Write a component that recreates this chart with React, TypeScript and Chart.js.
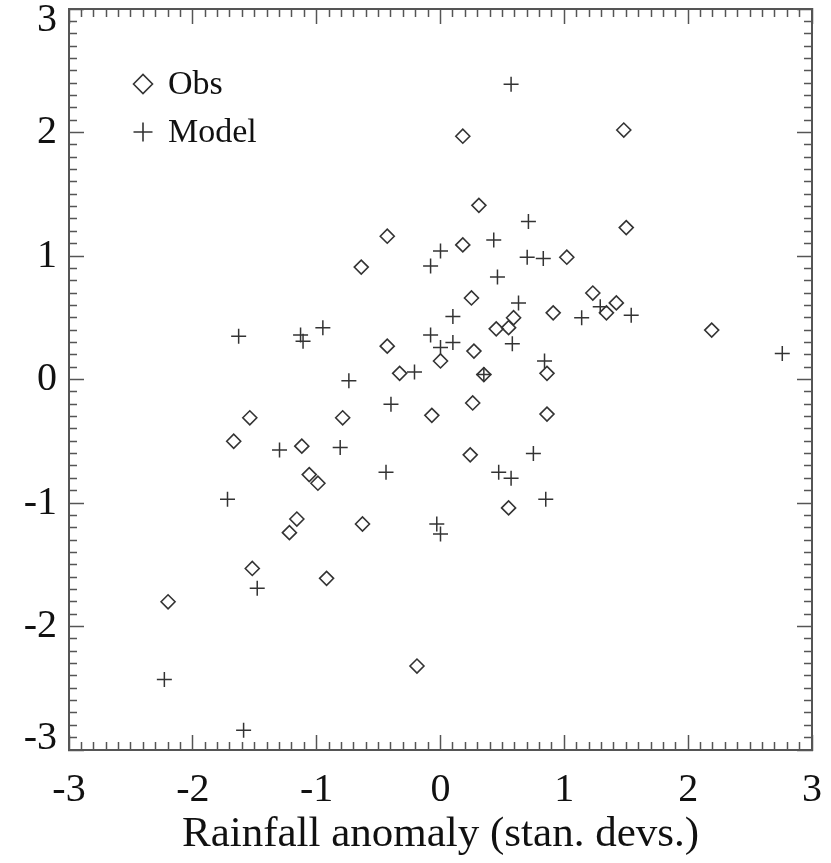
import React, { useEffect, useRef } from 'react';
import { Chart, registerables } from 'chart.js';

Chart.register(...registerables);

// ---- data ----
const obsX = [0.18, 1.48, 0.31, -0.43, 0.18, -0.64, 1.02, 1.5, 0.25, 1.23, 1.42, 1.34, 0.91, 0.45, 0.59, 0.55, 2.19, -0.43, 0.27, 0.0, -0.33, 0.35, 0.86, -1.54, -0.79, -0.07, 0.26, 0.86, -1.67, -1.12, 0.24, -1.06, -0.99, -1.16, -1.22, -0.63, 0.55, -1.52, -0.92, -2.2, -0.19];
const obsY = [1.97, 2.02, 1.41, 1.16, 1.09, 0.91, 0.99, 1.23, 0.66, 0.7, 0.62, 0.54, 0.54, 0.41, 0.5, 0.42, 0.4, 0.27, 0.23, 0.15, 0.05, 0.04, 0.05, -0.31, -0.31, -0.29, -0.19, -0.28, -0.5, -0.54, -0.61, -0.77, -0.84, -1.13, -1.24, -1.17, -1.04, -1.53, -1.61, -1.8, -2.32];

const modelX = [0.57, 0.71, 0.43, 0.0, -0.08, 0.7, 0.83, 0.46, 0.63, 0.1, 1.14, 1.54, 1.29, -1.63, -1.13, -1.11, -0.95, -0.08, 0.1, 0.0, -0.21, 0.58, 0.35, -0.74, 0.84, 2.76, -0.4, -0.81, -1.3, -0.44, 0.47, 0.57, 0.75, 0.85, -1.72, -0.03, 0.0, -1.48, -2.23, -1.59];
const modelY = [2.39, 1.28, 1.13, 1.04, 0.92, 0.99, 0.98, 0.83, 0.62, 0.51, 0.5, 0.52, 0.59, 0.35, 0.36, 0.31, 0.42, 0.36, 0.3, 0.26, 0.06, 0.29, 0.04, -0.01, 0.15, 0.21, -0.2, -0.55, -0.57, -0.75, -0.75, -0.8, -0.6, -0.97, -0.97, -1.17, -1.25, -1.69, -2.43, -2.84];

const seriesLabels = ['Obs', 'Model'];
const axisMin = -3;
const axisMax = 3;
const minorStep = 0.1;
const xTitle = 'Rainfall anomaly (stan. devs.)';

// ---- styles ----
const serif = "'Liberation Serif', 'Times New Roman', Times, serif";
const frameColor = '#555';
const markColor = '#333';
const textColor = '#111';

function isMajor(v: any): boolean {
  if (typeof v !== 'number') return true;
  const r = Math.round(v * 10) / 10;
  return Math.abs(r - Math.round(r)) < 1e-9;
}

function zeroPad(s: any) {
  s.paddingLeft = 0;
  s.paddingRight = 0;
  s.paddingTop = 0;
  s.paddingBottom = 0;
}

// startAtBorder: tick line begins at the frame (bottom/right axes); else ends at frame (top/left)
function gridCfg(startAtBorder: boolean) {
  return {
    display: true,
    drawOnChartArea: false,
    drawTicks: true,
    tickLength: -15,
    tickWidth: 1.5,
    tickColor: frameColor,
    tickBorderDash: (ctx: any) => {
      const v = ctx && ctx.tick ? ctx.tick.value : undefined;
      if (isMajor(v)) return [];
      return startAtBorder ? [9, 100] : [0, 7, 9, 100];
    },
  };
}

const borderCfg = { display: true, color: frameColor, width: 2 };

const insideLegend = {
  id: 'insideLegend',
  afterDraw(chart: any) {
    const ctx = chart.ctx;
    const a = chart.chartArea;
    const sx = a.left + 74;
    const tx = a.left + 99;
    const rows = [a.top + 75, a.top + 123];
    ctx.save();
    chart.data.datasets.forEach((ds: any, i: number) => {
      const y = rows[i];
      const r = 9.5;
      ctx.strokeStyle = markColor;
      ctx.lineWidth = 1.6;
      ctx.beginPath();
      if (ds.pointStyle === 'rectRot') {
        ctx.moveTo(sx - r, y);
        ctx.lineTo(sx, y - r);
        ctx.lineTo(sx + r, y);
        ctx.lineTo(sx, y + r);
        ctx.closePath();
      } else {
        ctx.moveTo(sx - r, y);
        ctx.lineTo(sx + r, y);
        ctx.moveTo(sx, y - r);
        ctx.lineTo(sx, y + r);
      }
      ctx.stroke();
      ctx.fillStyle = textColor;
      ctx.font = `34px ${serif}`;
      ctx.textAlign = 'left';
      ctx.textBaseline = 'middle';
      ctx.fillText(ds.label, tx, y + 1);
    });
    ctx.restore();
  },
};

export default function App() {
  const ref = useRef<HTMLCanvasElement | null>(null);

  useEffect(() => {
    if (!ref.current) return;
    const obsData = obsX.map((x, i) => ({ x, y: obsY[i] }));
    const modelData = modelX.map((x, i) => ({ x, y: modelY[i] }));

    const chart = new Chart(ref.current, {
      type: 'scatter',
      data: {
        datasets: [
          {
            label: seriesLabels[0],
            data: obsData,
            pointStyle: 'rectRot',
            radius: 7,
            hoverRadius: 7,
            borderWidth: 1.6,
            borderColor: markColor,
            backgroundColor: 'rgba(0,0,0,0)',
          },
          {
            label: seriesLabels[1],
            data: modelData,
            pointStyle: 'cross',
            radius: 7.5,
            hoverRadius: 7.5,
            borderWidth: 1.5,
            borderColor: markColor,
            backgroundColor: 'rgba(0,0,0,0)',
          },
        ] as any,
      },
      options: {
        animation: false,
        responsive: false,
        events: [],
        layout: { padding: { top: 8, right: 19, left: 0, bottom: 0 } },
        plugins: {
          legend: { display: false },
          tooltip: { enabled: false },
        },
        scales: {
          x: {
            type: 'linear',
            position: 'bottom',
            min: axisMin,
            max: axisMax,
            weight: 1,
            ticks: {
              stepSize: minorStep,
              autoSkip: false,
              maxRotation: 0,
              minRotation: 0,
              padding: 31,
              color: textColor,
              font: { family: serif, size: 40 },
              callback: (v: any) => (isMajor(v) ? String(Math.round(v) || 0) : ''),
            },
            grid: gridCfg(true),
            border: borderCfg,
            title: {
              display: true,
              text: xTitle,
              color: textColor,
              font: { family: serif, size: 43 },
              padding: { top: 0, bottom: 2 },
            },
            afterFit: (s: any) => {
              s.height = 113;
              zeroPad(s);
            },
          },
          y: {
            type: 'linear',
            position: 'left',
            min: axisMin,
            max: axisMax,
            weight: 1,
            ticks: {
              stepSize: minorStep,
              autoSkip: false,
              padding: 27,
              color: textColor,
              font: (ctx: any) => {
                const v = ctx && ctx.tick ? Math.round(ctx.tick.value * 10) / 10 : 0;
                if (v === axisMax) return { family: serif, size: 40, lineHeight: '22px' };
                if (v === axisMin) return { family: serif, size: 40, lineHeight: '24px' };
                return { family: serif, size: 40 };
              },
              callback: (v: any) => {
                if (!isMajor(v)) return '';
                const n = Math.round(v) || 0;
                if (n === axisMax) return ['', String(n)];
                if (n === axisMin) return [String(n), ''];
                return String(n);
              },
            },
            grid: gridCfg(false),
            border: borderCfg,
            afterFit: (s: any) => {
              s.width = 69;
              zeroPad(s);
            },
          },
          x2: {
            type: 'linear',
            axis: 'x',
            position: 'top',
            min: axisMin,
            max: axisMax,
            ticks: { display: false, stepSize: minorStep, autoSkip: false },
            grid: gridCfg(false),
            border: borderCfg,
            afterFit: (s: any) => {
              s.height = 0;
              zeroPad(s);
            },
          },
          y2: {
            type: 'linear',
            axis: 'y',
            position: 'right',
            min: axisMin,
            max: axisMax,
            ticks: { display: false, stepSize: minorStep, autoSkip: false },
            grid: gridCfg(true),
            border: borderCfg,
            afterFit: (s: any) => {
              s.width = 0;
              zeroPad(s);
            },
          },
        } as any,
      },
      plugins: [insideLegend],
    });
    return () => chart.destroy();
  }, []);

  return (
    <div style={{ position: 'absolute', left: 0, top: 0, width: 831, height: 863, background: '#fff' }}>
      <canvas ref={ref} width={831} height={863} style={{ display: 'block' }} />
    </div>
  );
}
